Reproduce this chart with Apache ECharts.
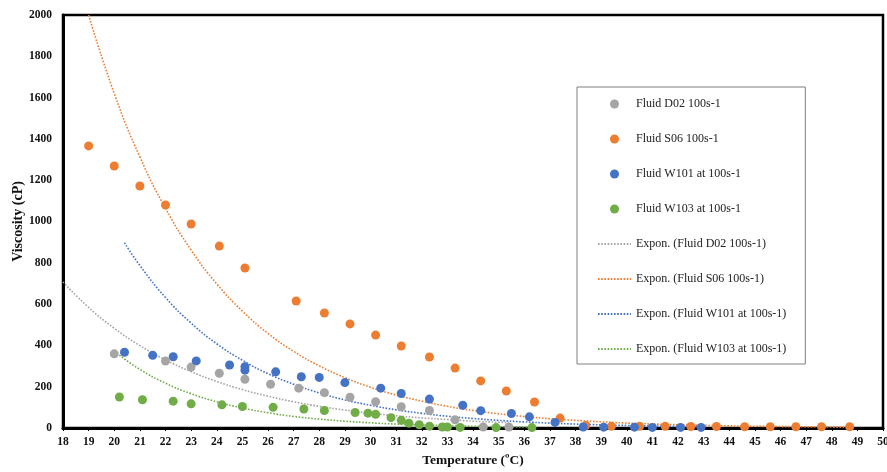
<!DOCTYPE html>
<html>
<head>
<meta charset="utf-8">
<script src="https://cdn.jsdelivr.net/npm/echarts@6/dist/echarts.min.js"></script>
<style>
html,body{margin:0;padding:0;background:#fff;}
#chart{width:887px;height:472px;}
</style>
</head>
<body>
<div id="chart"></div>
<script>
// ---- Data ----
const xTicks = {min: 18, max: 50, step: 1};
const yTicks = {min: 0, max: 2000, step: 200};

const d02X = [20.0, 22.0, 23.0, 24.1, 25.1, 26.1, 27.2, 28.2, 29.2, 30.2, 31.2, 32.3, 33.3, 34.4, 35.4];
const d02Y = [359, 324, 295, 265, 236, 212, 193, 171, 149, 127, 103, 85, 40, 5, 5];

const s06X = [19.0, 20.0, 21.0, 22.0, 23.0, 24.1, 25.1, 27.1, 28.2, 29.2, 30.2, 31.2, 32.3, 33.3, 34.3, 35.3, 36.4, 37.4, 38.4, 39.4, 40.5, 41.5, 42.5, 43.5, 44.6, 45.6, 46.6, 47.6, 48.7];
const s06Y = [1366, 1269, 1172, 1080, 988, 881, 775, 615, 557, 504, 450, 397, 344, 290, 228, 179, 126, 48, 12, 8, 8, 8, 7, 7, 6, 6, 6, 6, 6];

const w101X = [20.4, 21.5, 22.3, 23.2, 24.5, 25.1, 25.1, 26.3, 27.3, 28.0, 29.0, 30.4, 31.2, 32.3, 33.6, 34.3, 35.5, 36.2, 37.2, 38.3, 39.1, 40.3, 41.0, 42.1, 42.9];
const w101Y = [367, 352, 345, 325, 305, 297, 280, 272, 248, 245, 220, 193, 167, 140, 110, 84, 70, 54, 27, 5, 4, 4, 3, 3, 3];

const w103X = [20.2, 21.1, 22.3, 23.0, 24.2, 25.0, 26.2, 27.4, 28.2, 29.4, 29.9, 30.2, 30.8, 31.2, 31.5, 31.9, 32.3, 32.8, 33.0, 33.5, 34.9, 36.3];
const w103Y = [150, 137, 130, 117, 112, 104, 100, 92, 85, 75, 72, 66, 50, 37, 23, 16, 9, 5, 5, 3, 2, 2];

// Trend curves
const d02TrendX = [18, 19, 20, 21, 22, 23, 24, 25, 26, 27, 28, 29, 30, 31, 32, 33, 34, 35, 35.4];
const d02TrendY = [707, 584, 483, 399, 330, 273, 225, 186, 154, 127, 105, 87, 72, 59, 49, 41, 33, 28, 26];

const s06TrendX = [19, 20, 21, 22, 23, 24, 25, 26, 27, 28, 29, 30, 31, 32, 33, 34, 35, 36, 37, 38, 39, 40, 41, 42, 43, 44, 45, 46, 47, 48, 48.7];
const s06TrendY = [2000, 1620, 1313, 1064, 862, 698, 566, 458, 371, 301, 244, 197, 160, 130, 105, 85, 69, 56, 45, 37, 30, 24, 19.6, 15.9, 12.9, 10.4, 8.5, 6.9, 5.6, 4.5, 3.9];

const w101TrendX = [20.4, 21, 22, 23, 24, 25, 26, 27, 28, 29, 30, 31, 32, 33, 34, 35, 36, 37, 38, 39, 40, 41, 42, 42.9];
const w101TrendY = [897, 787, 632, 508, 408, 328, 263, 212, 170, 136, 110, 88, 71, 57, 46, 37, 29.5, 23.7, 19.0, 15.3, 12.3, 9.9, 7.9, 6.5];

const w103TrendX = [20.2, 21, 22, 23, 24, 25, 26, 27, 28, 29, 30, 31, 32, 33, 34, 35, 36, 36.3];
const w103TrendY = [353, 284, 217, 166, 127, 97, 74, 56, 43, 33, 25, 19, 14.6, 11.2, 8.5, 6.5, 5.0, 4.6];

const names = ['Fluid D02 100s-1', 'Fluid S06 100s-1', 'Fluid W101 at 100s-1', 'Fluid W103 at 100s-1'];
const trendNames = ['Expon. (Fluid D02 100s-1)', 'Expon. (Fluid S06 100s-1)', 'Expon. (Fluid W101 at 100s-1)', 'Expon. (Fluid W103 at 100s-1)'];
const colors = ['#A5A5A5', '#ED7D31', '#4472C4', '#70AD47'];

// ---- Build ----
const zip = (xs, ys) => xs.map((x, i) => [x, ys[i]]);
const pts = [zip(d02X, d02Y), zip(s06X, s06Y), zip(w101X, w101Y), zip(w103X, w103Y)];
const trends = [zip(d02TrendX, d02TrendY), zip(s06TrendX, s06TrendY), zip(w101TrendX, w101TrendY), zip(w103TrendX, w103TrendY)];

const FONT = '"Liberation Serif", "Times New Roman", serif';

const series = [];
trends.forEach((d, i) => {
  series.push({
    name: trendNames[i], type: 'line', data: d, smooth: true, symbol: 'none',
    lineStyle: {color: colors[i], width: 1.6, type: [1.6, 1.6]}, itemStyle: {color: colors[i]},
    z: 2, silent: true
  });
});
pts.forEach((d, i) => {
  series.push({
    name: names[i], type: 'scatter', data: d, symbol: 'circle', symbolSize: 9,
    itemStyle: {color: colors[i], opacity: 1}, z: 3
  });
});

const chart = echarts.init(document.getElementById('chart'), null, {renderer: 'canvas'});
chart.setOption({
  animation: false,
  backgroundColor: '#fff',
  grid: {left: 63, right: 4, top: 15, bottom: 44, show: true, borderColor: '#000', borderWidth: 2.5,
    backgroundColor: 'transparent', containLabel: false, outerBoundsMode: 'none'},
  xAxis: {
    type: 'value', min: xTicks.min, max: xTicks.max, interval: xTicks.step,
    name: 'Temperature (ºC)', nameLocation: 'middle', nameGap: 26,
    nameTextStyle: {fontFamily: FONT, fontWeight: 'bold', fontSize: 13.5, color: '#111'},
    axisLine: {show: true, onZero: false, lineStyle: {color: '#000', width: 3}},
    axisTick: {show: true, length: 3, lineStyle: {color: '#000', width: 1}},
    axisLabel: {fontFamily: FONT, fontWeight: 'bold', fontSize: 11.5, color: '#111', margin: 8, formatter: v => String(v)},
    splitLine: {show: false}
  },
  yAxis: {
    type: 'value', min: yTicks.min, max: yTicks.max, interval: yTicks.step,
    name: 'Viscosity (cP)', nameLocation: 'middle', nameGap: 38, nameMoveOverlap: false,
    nameTextStyle: {fontFamily: FONT, fontWeight: 'bold', fontSize: 14, color: '#111'},
    axisLine: {show: true, lineStyle: {color: '#000', width: 3}},
    axisTick: {show: false},
    axisLabel: {fontFamily: FONT, fontWeight: 'bold', fontSize: 11.5, color: '#111', margin: 11, formatter: v => String(v)},
    splitLine: {show: false}
  },
  legend: {
    orient: 'vertical', left: 577, top: 87,
    data: names.map(n => ({name: n, icon: 'circle'}))
      .concat(trendNames.map(n => ({name: n, itemStyle: {opacity: 0, borderWidth: 0}}))),
    itemWidth: 33, itemHeight: 9, itemGap: 21,
    padding: [10, 19, 8, 20],
    borderColor: '#7F7F7F', borderWidth: 1, backgroundColor: '#fff',
    textStyle: {fontFamily: FONT, fontSize: 12, color: '#222', lineHeight: 14},
    selectedMode: false
  },
  series: series
});
</script>
</body>
</html>
